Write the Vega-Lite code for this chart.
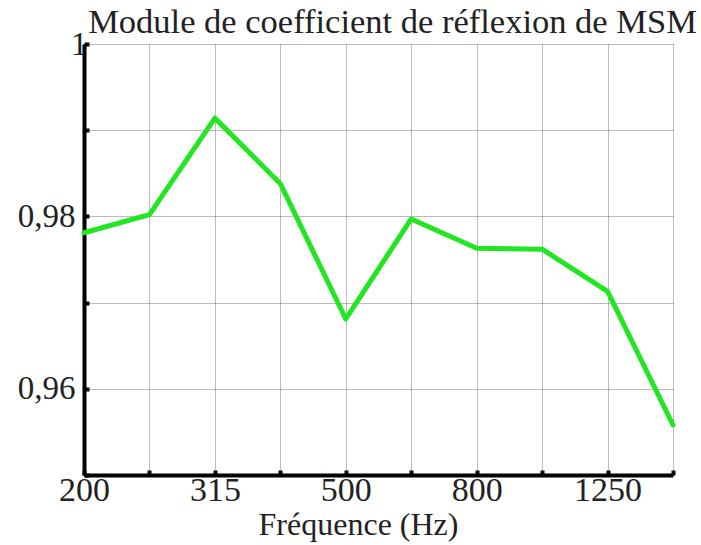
{
  "$schema": "https://vega.github.io/schema/vega-lite/v6.json",
  "autosize": "none",
  "width": 589,
  "height": 431,
  "padding": {"left": 84, "top": 44, "right": 28, "bottom": 70},
  "background": "white",
  "title": {
    "text": "Module de coefficient de réflexion de MSM",
    "font": "Liberation Serif",
    "fontSize": 34.5,
    "fontWeight": "normal",
    "color": "#222222",
    "anchor": "middle",
    "dx": 14,
    "offset": -12
  },
  "data": {
    "values": [
      {"freq": "200", "r": 0.9781},
      {"freq": "250", "r": 0.9802},
      {"freq": "315", "r": 0.9914},
      {"freq": "400", "r": 0.9838},
      {"freq": "500", "r": 0.9681},
      {"freq": "630", "r": 0.9797},
      {"freq": "800", "r": 0.9763},
      {"freq": "1000", "r": 0.9762},
      {"freq": "1250", "r": 0.9713},
      {"freq": "1600", "r": 0.9558}
    ]
  },
  "mark": {"type": "line", "color": "#22e622", "strokeWidth": 5, "strokeJoin": "round", "strokeCap": "round"},
  "encoding": {
    "x": {
      "field": "freq",
      "type": "ordinal",
      "sort": null,
      "scale": {"type": "point", "padding": 0},
      "axis": {
        "title": "Fréquence (Hz)",
        "titleFont": "Liberation Serif",
        "titleFontSize": 32,
        "titleFontWeight": "normal",
        "titleColor": "#222222",
        "titleX": 274,
        "titlePadding": 2,
        "labelAngle": 0,
        "labelFont": "Liberation Serif",
        "labelFontSize": 34,
        "labelColor": "#222222",
        "labelPadding": 3,
        "labelExpr": "(datum.value == '200' || datum.value == '315' || datum.value == '500' || datum.value == '800' || datum.value == '1250') ? datum.value : ''",
        "labelOverlap": false,
        "domainColor": "black",
        "domainWidth": 4,
        "tickColor": "black",
        "tickWidth": 4,
        "tickSize": -5,
        "grid": true,
        "gridColor": "#777777",
        "gridDash": [1, 1],
        "gridWidth": 1
      }
    },
    "y": {
      "field": "r",
      "type": "quantitative",
      "scale": {"domain": [0.95, 1], "nice": false, "zero": false},
      "axis": {
        "title": null,
        "values": [0.95, 0.96, 0.97, 0.98, 0.99, 1.0],
        "labelFont": "Liberation Serif",
        "labelFontSize": 33,
        "labelColor": "#222222",
        "labelPadding": {"condition": {"test": "datum.value > 0.995", "value": 2}, "value": 14},
        "labelExpr": "datum.value < 0.955 ? '' : (round(datum.value*100) % 2 == 0 ? (datum.value > 0.995 ? '1' : replace(format(datum.value, '.2f'), '.', ',')) : '')",
        "domainColor": "black",
        "domainWidth": 4,
        "tickColor": "black",
        "tickWidth": 4,
        "tickSize": -5,
        "grid": true,
        "gridColor": "#777777",
        "gridDash": [1, 1],
        "gridWidth": 1
      }
    }
  },
  "config": {"view": {"stroke": null}}
}
